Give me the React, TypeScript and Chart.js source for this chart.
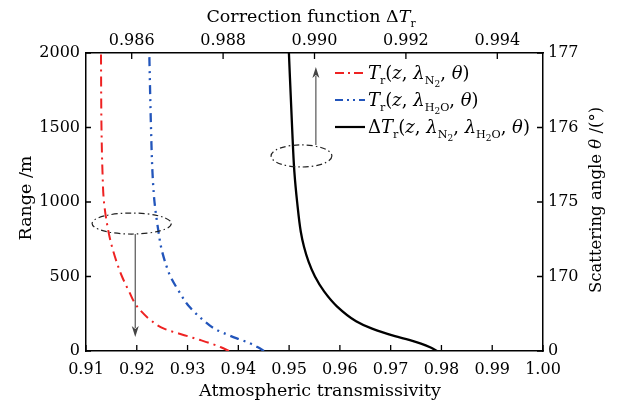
import React, { useEffect, useRef } from "react";
import { Chart, registerables } from "chart.js";

Chart.register(...registerables);

// ---- data ----
const rangeValues = [0, 25, 50, 75, 100, 150, 200, 300, 400, 500, 600, 700, 800, 1000, 1200, 1500, 2000];
const transN2 = [0.93816, 0.93658, 0.93461, 0.93235, 0.92999, 0.92536, 0.92300, 0.92004, 0.91847, 0.91709, 0.91601, 0.91512, 0.91443, 0.91354, 0.91325, 0.91305, 0.91295];
const transH2O = [0.94505, 0.94387, 0.94239, 0.94052, 0.93855, 0.93530, 0.93333, 0.93028, 0.92831, 0.92664, 0.92556, 0.92477, 0.92428, 0.92349, 0.92309, 0.92280, 0.92246];
const correction = [0.99268, 0.99253, 0.99233, 0.99207, 0.99176, 0.99126, 0.99091, 0.99049, 0.99021, 0.99001, 0.98987, 0.98977, 0.98970, 0.98962, 0.98956, 0.98951, 0.98944];

const bottomTicks = [0.91, 0.92, 0.93, 0.94, 0.95, 0.96, 0.97, 0.98, 0.99, 1.0];
const topTicks = [0.986, 0.988, 0.99, 0.992, 0.994];
const leftTicks = [0, 500, 1000, 1500, 2000];
const rightTickLabels = ["0", "170", "175", "176", "177"];

const FONT = '"DejaVu Serif"';

type Seg = { t: string; it?: boolean; lvl?: number };

function segFont(s: Seg, size: number) {
  const lvl = s.lvl || 0;
  const sz = lvl === 0 ? size : lvl === 1 ? size * 0.62 : size * 0.5;
  return { font: `${s.it ? "italic " : ""}${sz}px ${FONT}`, dy: lvl === 0 ? 0 : lvl === 1 ? size * 0.3 : size * 0.42 };
}

function measureRich(ctx: CanvasRenderingContext2D, segs: Seg[], size: number) {
  let w = 0;
  for (const s of segs) {
    ctx.font = segFont(s, size).font;
    w += ctx.measureText(s.t).width;
  }
  return w;
}

function drawRich(ctx: CanvasRenderingContext2D, segs: Seg[], x: number, y: number, size: number) {
  let cx = x;
  ctx.textAlign = "left";
  ctx.textBaseline = "alphabetic";
  for (const s of segs) {
    const f = segFont(s, size);
    ctx.font = f.font;
    ctx.fillText(s.t, cx, y + f.dy);
    cx += ctx.measureText(s.t).width;
  }
}

const legendItems: { color: string; dash: number[]; width: number; segs: Seg[] }[] = [
  {
    color: "#ee2222",
    dash: [9, 4, 2, 4],
    width: 2,
    segs: [
      { t: "T", it: true }, { t: "r", lvl: 1 }, { t: "(" }, { t: "z", it: true }, { t: ", " },
      { t: "λ", it: true }, { t: "N", lvl: 1 }, { t: "2", lvl: 2 }, { t: ", " }, { t: "θ", it: true }, { t: ")" },
    ],
  },
  {
    color: "#2255bb",
    dash: [8, 4, 2, 4, 2, 4],
    width: 2.2,
    segs: [
      { t: "T", it: true }, { t: "r", lvl: 1 }, { t: "(" }, { t: "z", it: true }, { t: ", " },
      { t: "λ", it: true }, { t: "H", lvl: 1 }, { t: "2", lvl: 2 }, { t: "O", lvl: 1 }, { t: ", " }, { t: "θ", it: true }, { t: ")" },
    ],
  },
  {
    color: "#000000",
    dash: [],
    width: 2.2,
    segs: [
      { t: "Δ" }, { t: "T", it: true }, { t: "r", lvl: 1 }, { t: "(" }, { t: "z", it: true }, { t: ", " },
      { t: "λ", it: true }, { t: "N", lvl: 1 }, { t: "2", lvl: 2 }, { t: ", " },
      { t: "λ", it: true }, { t: "H", lvl: 1 }, { t: "2", lvl: 2 }, { t: "O", lvl: 1 }, { t: ", " }, { t: "θ", it: true }, { t: ")" },
    ],
  },
];

// annotation marks in data units
const ellipseBottom = { x0: 0.9112, x1: 0.9268, y0: 785, y1: 926 };
const arrowBottom = { x: 0.9197, from: 785, to: 94 };
const ellipseTop = { x0: 0.98905, x1: 0.99038, y0: 1235, y1: 1383 };
const arrowTop = { x: 0.99003, from: 1383, to: 1906 };

const decorPlugin = {
  id: "decor",
  afterDraw(chart: any) {
    const ctx: CanvasRenderingContext2D = chart.ctx;
    const { x, x2, y, y2 } = chart.scales;
    const area = chart.chartArea;
    ctx.save();
    ctx.fillStyle = "#000";
    ctx.strokeStyle = "#000";
    // inward ticks
    ctx.lineWidth = 1.3;
    ctx.setLineDash([]);
    ctx.beginPath();
    for (const v of bottomTicks) {
      const px = x.getPixelForValue(v);
      ctx.moveTo(px, area.bottom);
      ctx.lineTo(px, area.bottom - 6);
    }
    for (const v of topTicks) {
      const px = x2.getPixelForValue(v);
      ctx.moveTo(px, area.top);
      ctx.lineTo(px, area.top + 6);
    }
    for (const v of leftTicks) {
      const py = y.getPixelForValue(v);
      ctx.moveTo(area.left, py);
      ctx.lineTo(area.left + 5, py);
      const py2 = y2.getPixelForValue(v);
      ctx.moveTo(area.right, py2);
      ctx.lineTo(area.right - 6, py2);
    }
    ctx.stroke();

    // ellipses
    const drawEllipse = (sx: any, e: any) => {
      const l = sx.getPixelForValue(e.x0), r = sx.getPixelForValue(e.x1);
      const b = y.getPixelForValue(e.y0), t = y.getPixelForValue(e.y1);
      ctx.beginPath();
      ctx.setLineDash([6, 3, 1.5, 3]);
      ctx.lineWidth = 1.2;
      ctx.strokeStyle = "#222";
      ctx.ellipse((l + r) / 2, (t + b) / 2, (r - l) / 2, (b - t) / 2, 0, 0, Math.PI * 2);
      ctx.stroke();
      ctx.setLineDash([]);
    };
    drawEllipse(x, ellipseBottom);
    drawEllipse(x2, ellipseTop);

    const drawArrow = (px: number, fromY: number, toY: number) => {
      ctx.strokeStyle = "#555";
      ctx.fillStyle = "#444";
      ctx.lineWidth = 1.2;
      const dir = toY > fromY ? 1 : -1;
      ctx.beginPath();
      ctx.moveTo(px, fromY);
      ctx.lineTo(px, toY - dir * 9);
      ctx.stroke();
      ctx.beginPath();
      ctx.moveTo(px, toY);
      ctx.lineTo(px - 3.5, toY - dir * 11);
      ctx.lineTo(px, toY - dir * 8);
      ctx.lineTo(px + 3.5, toY - dir * 11);
      ctx.closePath();
      ctx.fill();
    };
    drawArrow(x.getPixelForValue(arrowBottom.x), y.getPixelForValue(arrowBottom.from), y.getPixelForValue(arrowBottom.to));
    drawArrow(x2.getPixelForValue(arrowTop.x), y.getPixelForValue(arrowTop.from), y.getPixelForValue(arrowTop.to));

    // legend
    ctx.fillStyle = "#000";
    const lx0 = 335, lx1 = 365, ly0 = 73, lstep = 27;
    legendItems.forEach((it, i) => {
      const ly = ly0 + i * lstep;
      ctx.beginPath();
      ctx.strokeStyle = it.color;
      ctx.lineWidth = it.width;
      ctx.setLineDash(it.dash);
      ctx.moveTo(lx0, ly);
      ctx.lineTo(lx1, ly);
      ctx.stroke();
      ctx.setLineDash([]);
      ctx.fillStyle = "#000";
      drawRich(ctx, it.segs, 368, ly + 6, 18);
    });

    // axis titles
    ctx.fillStyle = "#000";
    const TS = 17.5;
    const topTitle: Seg[] = [{ t: "Correction function Δ" }, { t: "T", it: true }, { t: "r", lvl: 1 }];
    const tw = measureRich(ctx, topTitle, TS);
    drawRich(ctx, topTitle, 311 - tw / 2, 22, TS);

    const bottomTitle: Seg[] = [{ t: "Atmospheric transmissivity" }];
    const bw = measureRich(ctx, bottomTitle, TS);
    drawRich(ctx, bottomTitle, 320 - bw / 2, 396, TS);

    const leftTitle: Seg[] = [{ t: "Range /m" }];
    ctx.save();
    ctx.translate(31, 198);
    ctx.rotate(-Math.PI / 2);
    const lw = measureRich(ctx, leftTitle, TS);
    drawRich(ctx, leftTitle, -lw / 2, 0, TS);
    ctx.restore();

    const rightTitle: Seg[] = [{ t: "Scattering angle " }, { t: "θ", it: true }, { t: " /(°)" }];
    ctx.save();
    ctx.translate(601, 200);
    ctx.rotate(-Math.PI / 2);
    const rw = measureRich(ctx, rightTitle, 16.5);
    drawRich(ctx, rightTitle, -rw / 2, 0, 16.5);
    ctx.restore();

    ctx.restore();
  },
};

export default function App() {
  const ref = useRef<HTMLCanvasElement>(null);
  useEffect(() => {
    if (!ref.current) return;
    const tickFont = { family: FONT, size: 16 };
    const mk = (vals: number[]) => vals.map((v, i) => ({ x: v, y: rangeValues[i] }));
    const chart = new Chart(ref.current, {
      type: "line",
      data: {
        datasets: [
          {
            data: mk(transN2),
            xAxisID: "x",
            yAxisID: "y",
            borderColor: "#ee2222",
            borderWidth: 2,
            borderDash: [10, 5, 2, 5],
            pointRadius: 0,
            cubicInterpolationMode: "monotone",
          },
          {
            data: mk(transH2O),
            xAxisID: "x",
            yAxisID: "y",
            borderColor: "#2255bb",
            borderWidth: 2.3,
            borderDash: [9, 5, 2, 5, 2, 5],
            pointRadius: 0,
            cubicInterpolationMode: "monotone",
          },
          {
            data: mk(correction),
            xAxisID: "x2",
            yAxisID: "y",
            borderColor: "#000",
            borderWidth: 2.3,
            pointRadius: 0,
            cubicInterpolationMode: "monotone",
          },
        ],
      },
      options: {
        animation: false,
        responsive: false,
        devicePixelRatio: 1,
        indexAxis: "y",
        layout: { padding: 0 },
        plugins: { legend: { display: false }, tooltip: { enabled: false } },
        scales: {
          x: {
            type: "linear",
            position: "bottom",
            min: 0.91,
            max: 1.0,
            afterBuildTicks: (s: any) => { s.ticks = bottomTicks.map((v) => ({ value: v })); },
            afterFit: (s: any) => { s.height = 56; },
            grid: { display: false, drawTicks: false },
            border: { display: true, color: "#000", width: 1.5 },
            ticks: { font: tickFont, color: "#000", padding: 9, maxRotation: 0, callback: (v: any) => Number(v).toFixed(2) },
          },
          x2: {
            type: "linear",
            position: "top",
            min: 0.985,
            max: 0.995,
            afterBuildTicks: (s: any) => { s.ticks = topTicks.map((v) => ({ value: v })); },
            afterFit: (s: any) => { s.height = 53; },
            grid: { display: false, drawTicks: false },
            border: { display: true, color: "#000", width: 1.5 },
            ticks: { font: tickFont, color: "#000", padding: 3, maxRotation: 0, callback: (v: any) => Number(v).toFixed(3) },
          },
          y: {
            type: "linear",
            position: "left",
            min: 0,
            max: 2000,
            afterBuildTicks: (s: any) => { s.ticks = leftTicks.map((v) => ({ value: v })); },
            afterFit: (s: any) => { s.width = 86; },
            grid: { display: false, drawTicks: false },
            border: { display: true, color: "#000", width: 1.5 },
            ticks: { font: tickFont, color: "#000", padding: 6, callback: (v: any) => String(v) },
          },
          y2: {
            type: "linear",
            position: "right",
            min: 0,
            max: 2000,
            afterBuildTicks: (s: any) => { s.ticks = leftTicks.map((v) => ({ value: v })); },
            afterFit: (s: any) => { s.width = 74; },
            grid: { display: false, drawTicks: false },
            border: { display: true, color: "#000", width: 1.5 },
            ticks: {
              font: tickFont,
              color: "#000",
              padding: 5,
              callback: (v: any) => rightTickLabels[leftTicks.indexOf(Number(v))] ?? "",
            },
          },
        },
      } as any,
      plugins: [decorPlugin],
    });
    return () => chart.destroy();
  }, []);
  return (
    <div style={{ position: "absolute", left: 0, top: 0, width: 617, height: 407, background: "#fff" }}>
      <canvas ref={ref} width={617} height={407} />
    </div>
  );
}
